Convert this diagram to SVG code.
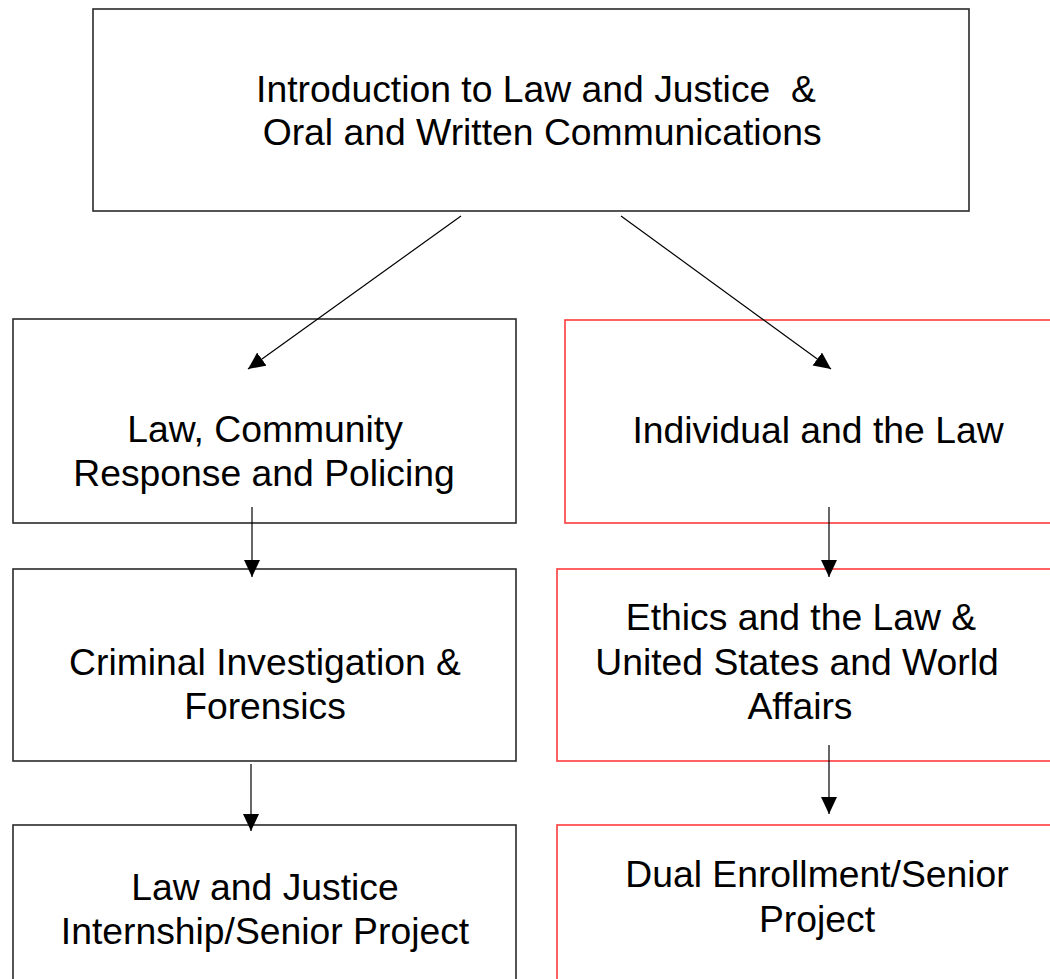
<svg xmlns="http://www.w3.org/2000/svg" width="1050" height="979" viewBox="0 0 1050 979">
<style>
.box{fill:#fff;stroke:#2a2a2a;stroke-width:1.6}
.red{fill:#fff;stroke:#ff3b3b;stroke-width:1.6}
.t{font-family:"Liberation Sans",Arial,sans-serif;font-size:37.3px;fill:#000;text-anchor:middle}
.c{stroke:#000;stroke-width:1.2;fill:none;marker-end:url(#ah)}
</style>
<defs>
<marker id="ah" markerUnits="userSpaceOnUse" markerWidth="18" markerHeight="17" refX="17" refY="8" orient="auto">
<path d="M0,0 L17,8 L0,16 z" fill="#000"/>
</marker>
</defs>
<rect width="1050" height="979" fill="#fff"/>
<g id="n-intro">
<rect class="box" x="93" y="9" width="876" height="202"/>
<text class="t" x="536" y="102" xml:space="preserve">Introduction to Law and Justice  &amp;</text>
<text class="t" x="537" y="145" xml:space="preserve"> Oral and Written Communications</text>
</g>
<g id="n-policing">
<rect class="box" x="13" y="319" width="503" height="204"/>
<text class="t" x="265" y="442">Law, Community</text>
<text class="t" x="264" y="486">Response and Policing</text>
</g>
<g id="n-criminal">
<rect class="box" x="13" y="569" width="503" height="192"/>
<text class="t" x="265" y="675">Criminal Investigation &amp;</text>
<text class="t" x="265" y="719">Forensics</text>
</g>
<g id="n-internship">
<rect class="box" x="13" y="825" width="503" height="170"/>
<text class="t" x="265" y="900">Law and Justice</text>
<text class="t" x="265" y="944">Internship/Senior Project</text>
</g>
<g id="n-individual">
<rect class="red" x="565" y="320" width="500" height="203"/>
<text class="t" x="818" y="443">Individual and the Law</text>
</g>
<g id="n-ethics">
<rect class="red" x="557" y="569" width="510" height="192"/>
<text class="t" x="801" y="630">Ethics and the Law &amp;</text>
<text class="t" x="797" y="675">United States and World</text>
<text class="t" x="800" y="719">Affairs</text>
</g>
<g id="n-dual">
<rect class="red" x="557" y="825" width="510" height="170"/>
<text class="t" x="817" y="887">Dual Enrollment/Senior</text>
<text class="t" x="817" y="932">Project</text>
</g>
<g id="connectors">
<line class="c" x1="461" y1="216" x2="248" y2="369"/>
<line class="c" x1="621" y1="216" x2="831" y2="369"/>
<line class="c" x1="252" y1="507" x2="252" y2="577"/>
<line class="c" x1="829" y1="507" x2="829" y2="577"/>
<line class="c" x1="251" y1="764" x2="251" y2="831"/>
<line class="c" x1="829" y1="745" x2="829" y2="814"/>
</g>
</svg>
